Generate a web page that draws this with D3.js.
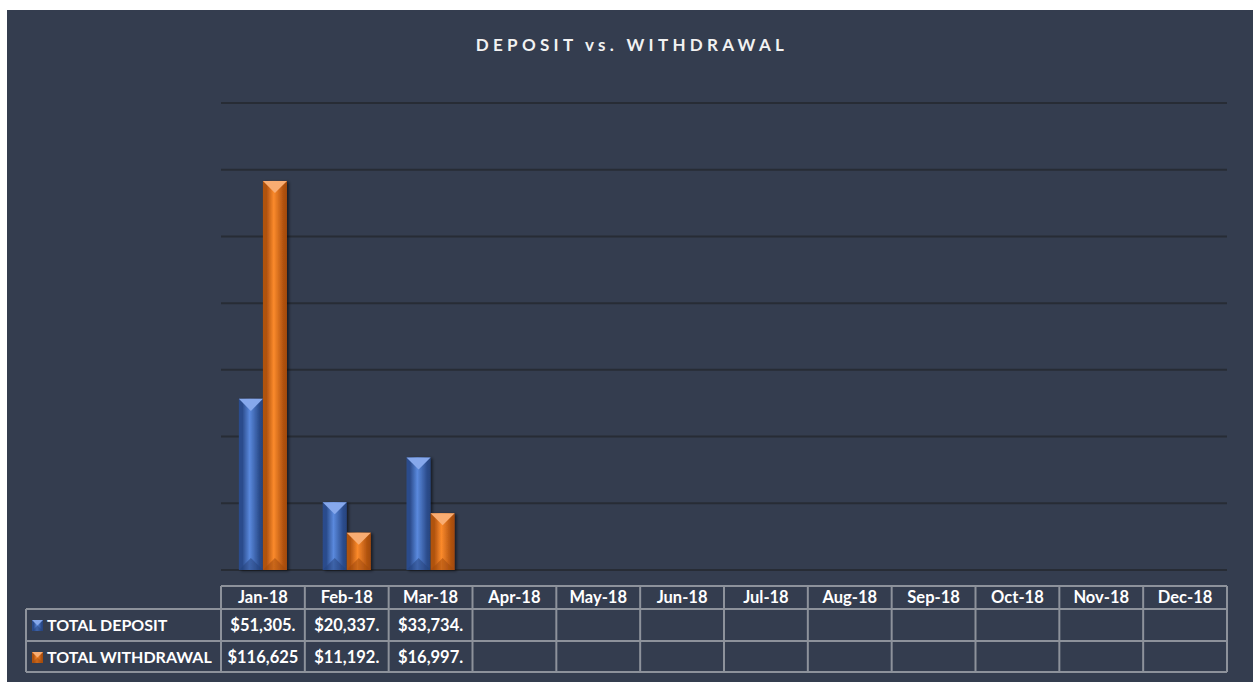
<!DOCTYPE html>
<html>
<head>
<meta charset="utf-8">
<script src="https://cdn.jsdelivr.net/npm/d3@7"></script>
<style>
  body { margin: 0; background: #ffffff; }
  svg text { font-family: "Lato", "Open Sans", sans-serif; font-weight: bold; fill: #ffffff; }
</style>
</head>
<body>
<div id="chart"></div>
<script>
// chart data
const months = ["Jan-18", "Feb-18", "Mar-18", "Apr-18", "May-18", "Jun-18",
                "Jul-18", "Aug-18", "Sep-18", "Oct-18", "Nov-18", "Dec-18"];
const seriesNames = ["TOTAL DEPOSIT", "TOTAL WITHDRAWAL"];
const depositValues = [51305, 20337, 33734];
const withdrawalValues = [116625, 11192, 16997];
const yTicks = [0, 20000, 40000, 60000, 80000, 100000, 120000, 140000];

const W = 1253, H = 682;
const plot = { left: 221, right: 1227, top: 103, bottom: 570 };
const table = { top: 586, rowH: [23, 32, 31], labelLeft: 26 };

const palette = {
  "TOTAL DEPOSIT": { edge: "#2b4c8c", mid: "#5a89dd", light: "#86a8ec", dark: "#27447e" },
  "TOTAL WITHDRAWAL": { edge: "#b0520f", mid: "#fb8a2c", light: "#f9ad72", dark: "#a24a0c" }
};

const svg = d3.select("#chart").append("svg")
  .attr("width", W).attr("height", H);

// background panel
svg.append("rect")
  .attr("x", 7).attr("y", 10)
  .attr("width", W - 7).attr("height", H - 10)
  .attr("fill", "#343d4f");

const defs = svg.append("defs");
Object.keys(palette).forEach((name, i) => {
  const c = palette[name];
  const g = defs.append("linearGradient").attr("id", "grad" + i)
    .attr("x1", "0%").attr("x2", "100%").attr("y1", "0%").attr("y2", "0%");
  g.append("stop").attr("offset", "0%").attr("stop-color", c.edge);
  g.append("stop").attr("offset", "15%").attr("stop-color", c.edge);
  g.append("stop").attr("offset", "45%").attr("stop-color", c.mid);
  g.append("stop").attr("offset", "85%").attr("stop-color", c.edge);
  g.append("stop").attr("offset", "100%").attr("stop-color", c.dark);
});
const shadow = defs.append("filter").attr("id", "shadow")
  .attr("x", "-30%").attr("y", "-10%").attr("width", "160%").attr("height", "120%");
shadow.append("feDropShadow").attr("dx", 2).attr("dy", 1)
  .attr("stdDeviation", 1.5).attr("flood-color", "#000").attr("flood-opacity", 0.55);

// title
svg.append("text")
  .attr("x", 632).attr("y", 51)
  .attr("text-anchor", "middle")
  .style("font-size", "17px")
  .style("letter-spacing", "4.3px")
  .style("fill", "#f2f2f2")
  .text("DEPOSIT vs. WITHDRAWAL");

// scales
const x0 = d3.scaleBand().domain(months).range([plot.left, plot.right]).padding(0);
const gap = x0.bandwidth() * 0.213;
const x1 = d3.scaleBand().domain(seriesNames).range([gap, x0.bandwidth() - gap]).padding(0);
const y = d3.scaleLinear().domain([0, 140000]).range([plot.bottom, plot.top]);

// gridlines
svg.append("g").selectAll("line")
  .data(yTicks).join("line")
  .attr("x1", plot.left).attr("x2", plot.right)
  .attr("y1", d => y(d)).attr("y2", d => y(d))
  .attr("stroke", "#272c35").attr("stroke-width", 2);

// bars
const barData = [];
depositValues.forEach((v, i) => barData.push({ month: months[i], series: seriesNames[0], value: v, gi: 0 }));
withdrawalValues.forEach((v, i) => barData.push({ month: months[i], series: seriesNames[1], value: v, gi: 1 }));

function bevelBar(g, bx, by, bw, bh, series, gi) {
  const c = palette[series];
  const b = Math.min(bw / 2, bh / 2);
  g.append("rect").attr("x", bx).attr("y", by).attr("width", bw).attr("height", bh)
    .attr("fill", `url(#grad${gi})`);
  g.append("polygon")
    .attr("points", [[bx, by], [bx + bw, by], [bx + bw / 2, by + b]].map(p => p.join(",")).join(" "))
    .attr("fill", c.light);
  g.append("polygon")
    .attr("points", [[bx, by + bh], [bx + bw, by + bh], [bx + bw / 2, by + bh - b]].map(p => p.join(",")).join(" "))
    .attr("fill", c.dark).attr("opacity", 0.55);
}

const barsG = svg.append("g");
barData.forEach(d => {
  const g = barsG.append("g").attr("filter", "url(#shadow)");
  const bx = x0(d.month) + x1(d.series);
  const by = y(d.value);
  bevelBar(g, bx, by, x1.bandwidth(), plot.bottom - by, d.series, d.gi);
});

// data table
const gridColor = "#8d929b";
const rowTops = [table.top, table.top + table.rowH[0], table.top + table.rowH[0] + table.rowH[1]];
const tableBottom = rowTops[2] + table.rowH[2];
const tg = svg.append("g");

// horizontal lines
tg.append("line").attr("x1", plot.left).attr("x2", plot.right)
  .attr("y1", rowTops[0]).attr("y2", rowTops[0]);
[rowTops[1], rowTops[2], tableBottom].forEach(yy => {
  tg.append("line").attr("x1", table.labelLeft).attr("x2", plot.right)
    .attr("y1", yy).attr("y2", yy);
});
// vertical lines
tg.append("line").attr("x1", table.labelLeft).attr("x2", table.labelLeft)
  .attr("y1", rowTops[1]).attr("y2", tableBottom);
months.concat([null]).forEach(m => {
  const xx = m ? x0(m) : plot.right;
  tg.append("line").attr("x1", xx).attr("x2", xx)
    .attr("y1", rowTops[0]).attr("y2", tableBottom);
});
tg.selectAll("line").attr("stroke", gridColor).attr("stroke-width", 2);

// header labels
tg.selectAll("text.month").data(months).join("text")
  .attr("class", "month")
  .attr("x", d => x0(d) + x0.bandwidth() / 2)
  .attr("y", rowTops[0] + 17)
  .attr("text-anchor", "middle")
  .style("font-size", "16.5px")
  .text(d => d);

// row labels with keys
seriesNames.forEach((name, i) => {
  const ty = rowTops[i + 1] + 22;
  const kg = tg.append("g");
  bevelBar(kg, 32, ty - 11, 11, 11, name, i);
  tg.append("text").attr("x", 47).attr("y", ty)
    .style("font-size", "16px")
    .text(name);
});

// values, cut to fit the cell like a spreadsheet does
const fmt = d3.format("$,.2f");
[depositValues, withdrawalValues].forEach((vals, r) => {
  vals.forEach((v, i) => {
    const full = fmt(v);
    const t = tg.append("text")
      .attr("x", x0(months[i]) + x0.bandwidth() / 2)
      .attr("y", rowTops[r + 1] + 22)
      .attr("text-anchor", "middle")
      .style("font-size", "16.5px")
      .text(full);
    let s = full;
    while (t.node().getComputedTextLength() > x0.bandwidth() - 12 && s.length > 1) {
      s = s.slice(0, -1);
      t.text(s);
    }
  });
});
</script>
</body>
</html>
